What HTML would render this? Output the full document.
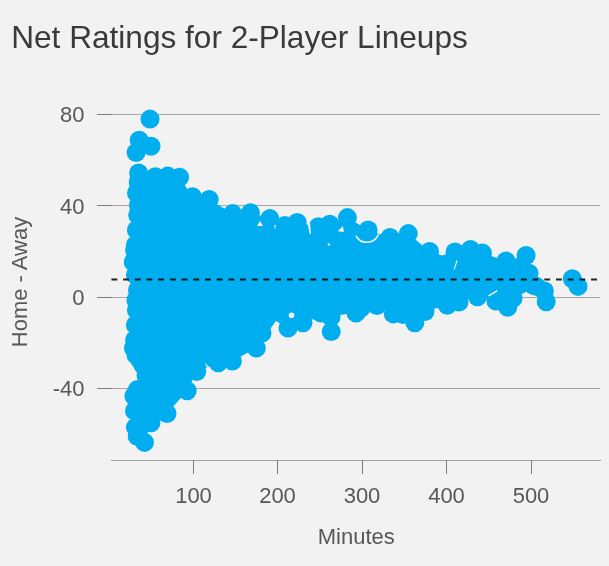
<!DOCTYPE html>
<html><head><meta charset="utf-8">
<style>
html,body{margin:0;padding:0;background:#f2f2f2;width:609px;height:566px;overflow:hidden}
svg{display:block;will-change:transform}
text{font-family:"Liberation Sans",sans-serif}
</style></head><body>
<svg width="609" height="566" viewBox="0 0 609 566">
<rect width="609" height="566" fill="#f2f2f2"/>
<text x="11.2" y="48" font-size="31.6" fill="#3a3a3a">Net Ratings for 2-Player Lineups</text>
<g stroke="#a6a6a6" stroke-width="1">
<line x1="112" y1="114.5" x2="600" y2="114.5"/>
<line x1="112" y1="205.5" x2="600" y2="205.5"/>
<line x1="112" y1="297.5" x2="600" y2="297.5"/>
<line x1="112" y1="388.5" x2="600" y2="388.5"/>
</g>
<line x1="111" y1="460.5" x2="601" y2="460.5" stroke="#a0a0a0" stroke-width="1"/>
<g stroke="#7c7c7c" stroke-width="1">
<line x1="97" y1="114.5" x2="112" y2="114.5"/>
<line x1="97" y1="205.5" x2="112" y2="205.5"/>
<line x1="97" y1="297.5" x2="112" y2="297.5"/>
<line x1="97" y1="388.5" x2="112" y2="388.5"/>
<line x1="193.5" y1="460" x2="193.5" y2="474"/>
<line x1="277.5" y1="460" x2="277.5" y2="474"/>
<line x1="362.5" y1="460" x2="362.5" y2="474"/>
<line x1="446.5" y1="460" x2="446.5" y2="474"/>
<line x1="531.5" y1="460" x2="531.5" y2="474"/>
</g>
<g font-size="22" fill="#585858" text-anchor="end">
<text x="84.5" y="122">80</text>
<text x="84.5" y="213.5">40</text>
<text x="84.5" y="305">0</text>
<text x="84.5" y="396">-40</text>
</g>
<g font-size="22" fill="#585858" text-anchor="middle">
<text x="193.5" y="502.5">100</text>
<text x="277.5" y="502.5">200</text>
<text x="362" y="502.5">300</text>
<text x="446.5" y="502.5">400</text>
<text x="531" y="502.5">500</text>
<text x="356.3" y="544">Minutes</text>
<text transform="translate(27,282) rotate(-90)">Home - Away</text>
</g>
<g fill="#00aeef">
<polygon points="138.6,172.9 155.3,176.8 167.7,176.1 179.5,177.3 192.4,196.7 209.2,199.4 232.7,213.6 250.4,212.7 269.8,218.6 284.8,225.6 297.2,222.4 318.3,226.8 329.8,224.2 347.4,217.6 368.1,230.0 390.0,237.5 408.3,233.6 429.5,251.5 442.0,255.5 455.0,252.0 470.5,249.5 482.4,253.1 506.0,261.0 526.1,255.5 529.0,273.2 533.7,285.5 544.4,291.0 546.2,301.7 536.6,286.6 513.0,298.4 507.7,307.3 495.9,301.0 477.5,296.8 447.3,305.2 425.0,311.5 414.8,322.8 393.3,313.9 377.0,305.5 356.0,313.0 343.0,314.5 331.0,317.0 321.0,313.0 315.3,310.4 303.0,322.8 288.0,328.0 276.0,321.0 256.3,348.1 232.4,361.0 218.3,362.8 196.7,371.5 187.2,390.7 167.0,413.5 151.0,422.7 144.5,442.4 137.2,436.3 135.5,427.3 134.5,410.9 133.9,396.0 137.5,389.5 146.0,375.0 143.0,365.0 140.0,360.0 136.0,355.0 133.4,348.0 134.6,340.0 135.4,325.0 136.4,310.0 135.9,300.0 137.5,290.0 135.4,275.0 133.2,262.0 134.6,250.0 135.4,245.0 136.4,230.0 137.7,215.0 138.4,205.0 136.5,193.0 138.2,182.0"/>
<circle cx="138.6" cy="172.9" r="9.5"/>
<circle cx="155.3" cy="176.8" r="9.5"/>
<circle cx="167.7" cy="176.1" r="9.5"/>
<circle cx="179.5" cy="177.3" r="9.5"/>
<circle cx="192.4" cy="196.7" r="9.5"/>
<circle cx="209.2" cy="199.4" r="9.5"/>
<circle cx="232.7" cy="213.6" r="9.5"/>
<circle cx="250.4" cy="212.7" r="9.5"/>
<circle cx="269.8" cy="218.6" r="9.5"/>
<circle cx="284.8" cy="225.6" r="9.5"/>
<circle cx="297.2" cy="222.4" r="9.5"/>
<circle cx="318.3" cy="226.8" r="9.5"/>
<circle cx="329.8" cy="224.2" r="9.5"/>
<circle cx="347.4" cy="217.6" r="9.5"/>
<circle cx="368.1" cy="230.0" r="9.5"/>
<circle cx="390.0" cy="237.5" r="9.5"/>
<circle cx="408.3" cy="233.6" r="9.5"/>
<circle cx="429.5" cy="251.5" r="9.5"/>
<circle cx="455.0" cy="252.0" r="9.5"/>
<circle cx="470.5" cy="249.5" r="9.5"/>
<circle cx="482.4" cy="253.1" r="9.5"/>
<circle cx="506.0" cy="261.0" r="9.5"/>
<circle cx="526.1" cy="255.5" r="9.5"/>
<circle cx="529.0" cy="273.2" r="9.5"/>
<circle cx="533.7" cy="285.5" r="9.5"/>
<circle cx="544.4" cy="291.0" r="9.5"/>
<circle cx="546.2" cy="301.7" r="9.5"/>
<circle cx="536.6" cy="286.6" r="9.5"/>
<circle cx="513.0" cy="298.4" r="9.5"/>
<circle cx="507.7" cy="307.3" r="9.5"/>
<circle cx="495.9" cy="301.0" r="9.5"/>
<circle cx="477.5" cy="296.8" r="9.5"/>
<circle cx="447.3" cy="305.2" r="9.5"/>
<circle cx="425.0" cy="311.5" r="9.5"/>
<circle cx="414.8" cy="322.8" r="9.5"/>
<circle cx="393.3" cy="313.9" r="9.5"/>
<circle cx="377.0" cy="305.5" r="9.5"/>
<circle cx="356.0" cy="313.0" r="9.5"/>
<circle cx="331.0" cy="317.0" r="9.5"/>
<circle cx="321.0" cy="313.0" r="9.5"/>
<circle cx="315.3" cy="310.4" r="9.5"/>
<circle cx="303.0" cy="322.8" r="9.5"/>
<circle cx="288.0" cy="328.0" r="9.5"/>
<circle cx="256.3" cy="348.1" r="9.5"/>
<circle cx="232.4" cy="361.0" r="9.5"/>
<circle cx="218.3" cy="362.8" r="9.5"/>
<circle cx="196.7" cy="371.5" r="9.5"/>
<circle cx="187.2" cy="390.7" r="9.5"/>
<circle cx="167.0" cy="413.5" r="9.5"/>
<circle cx="151.0" cy="422.7" r="9.5"/>
<circle cx="144.5" cy="442.4" r="9.5"/>
<circle cx="137.2" cy="436.3" r="9.5"/>
<circle cx="135.5" cy="427.3" r="9.5"/>
<circle cx="134.5" cy="410.9" r="9.5"/>
<circle cx="133.9" cy="396.0" r="9.5"/>
<circle cx="137.5" cy="389.5" r="9.5"/>
<circle cx="146.0" cy="375.0" r="9.5"/>
<circle cx="143.0" cy="365.0" r="9.5"/>
<circle cx="140.0" cy="360.0" r="9.5"/>
<circle cx="136.0" cy="355.0" r="9.5"/>
<circle cx="133.4" cy="348.0" r="9.5"/>
<circle cx="134.6" cy="340.0" r="9.5"/>
<circle cx="135.4" cy="325.0" r="9.5"/>
<circle cx="136.4" cy="310.0" r="9.5"/>
<circle cx="135.9" cy="300.0" r="9.5"/>
<circle cx="137.5" cy="290.0" r="9.5"/>
<circle cx="135.4" cy="275.0" r="9.5"/>
<circle cx="133.2" cy="262.0" r="9.5"/>
<circle cx="134.6" cy="250.0" r="9.5"/>
<circle cx="135.4" cy="245.0" r="9.5"/>
<circle cx="136.4" cy="230.0" r="9.5"/>
<circle cx="137.7" cy="215.0" r="9.5"/>
<circle cx="138.4" cy="205.0" r="9.5"/>
<circle cx="136.5" cy="193.0" r="9.5"/>
<circle cx="138.2" cy="182.0" r="9.5"/>
<circle cx="403.0" cy="314.5" r="9.5"/>
<circle cx="459.0" cy="302.0" r="9.5"/>
<circle cx="262.0" cy="333.0" r="9.5"/>
<circle cx="361.0" cy="308.0" r="9.5"/>
<circle cx="331.2" cy="331.6" r="9.5"/>
<circle cx="150.0" cy="119.1" r="9.5"/>
<circle cx="139.2" cy="140.3" r="9.5"/>
<circle cx="151.0" cy="146.3" r="9.5"/>
<circle cx="136.1" cy="152.5" r="9.5"/>
<circle cx="572.3" cy="278.7" r="9.5"/>
<circle cx="578.0" cy="286.4" r="9.5"/>
</g>
<g fill="#f2f2f2">
<polygon points="337.7,231.2 343,225.9 343.9,232.1"/>
<polygon points="306.8,219 309.6,219 311,234 309.6,234"/>
<polygon points="257,226 260,221 263,226"/>
<polygon points="274.3,225 276,225 275,230"/>
<polygon points="456.5,260 457.5,261 454.5,270 453.8,269"/>
<polygon points="488,295.5 497,290 497.5,291.5 489,296.5"/>
<polygon points="205,364 206,363.5 210,369 209,370"/>
<circle cx="291.5" cy="315.3" r="2.8"/>
<circle cx="328.9" cy="244.5" r="1.2"/>
<path d="M356,236 A12.5,12.5 0 0 0 378.5,234.3" fill="none" stroke="#f2f2f2" stroke-width="1.6"/>
</g>
<line x1="111.4" y1="279.5" x2="600" y2="279.5" stroke="#000" stroke-opacity="0.85" stroke-width="2" stroke-dasharray="5.85 5.85"/>
</svg>
</body></html>
